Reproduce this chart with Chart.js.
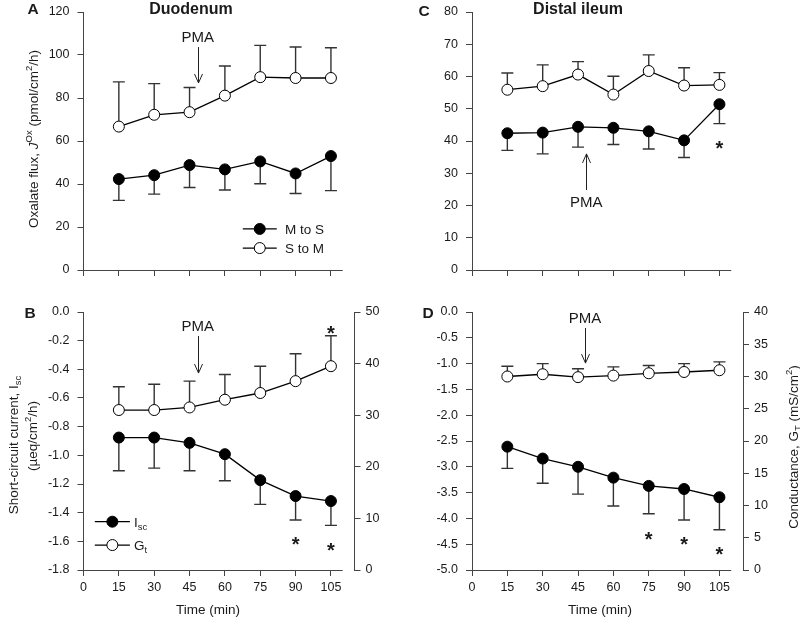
<!DOCTYPE html>
<html>
<head>
<meta charset="utf-8">
<script src="https://cdn.jsdelivr.net/npm/chart.js@4"></script>
<style>
  body { margin: 0; background: #fff; }
  #wrap { position: relative; width: 800px; height: 618px; background: #fff; }
  canvas { position: absolute; }
</style>
</head>
<body>
<div id="wrap">
  <canvas id="chartA" width="400" height="300" style="left:0;top:0"></canvas>
  <canvas id="chartC" width="400" height="300" style="left:400px;top:0"></canvas>
  <canvas id="chartB" width="400" height="318" style="left:0;top:300px"></canvas>
  <canvas id="chartD" width="400" height="318" style="left:400px;top:300px"></canvas>
</div>
<script>
// time points (min)
const times = [15, 30, 45, 60, 75, 90, 105];
const timeTicks = [0, 15, 30, 45, 60, 75, 90, 105];

// A - duodenum oxalate flux
const duoMtoS = [42.3, 44.1, 48.8, 46.8, 50.5, 44.9, 53.0];
const duoMtoSErr = [9.9, 8.8, 10.4, 9.6, 10.4, 9.3, 16.1];
const duoStoM = [66.7, 72.2, 73.4, 81.1, 89.7, 89.3, 89.3];
const duoStoMErr = [20.8, 14.5, 11.5, 13.8, 14.8, 14.4, 14.1];

// C - distal ileum oxalate flux
const ileMtoS = [42.4, 42.6, 44.4, 44.1, 43.0, 40.2, 51.4];
const ileMtoSErr = [5.3, 6.6, 6.3, 5.2, 5.5, 5.3, 6.0];
const ileStoM = [55.9, 57.0, 60.6, 54.4, 61.7, 57.2, 57.4];
const ileStoMErr = [5.2, 6.6, 4.0, 5.7, 5.0, 5.5, 3.8];

// B - duodenum Isc / Gt
const duoIsc = [-0.876, -0.876, -0.913, -0.992, -1.173, -1.284, -1.319];
const duoIscErr = [0.232, 0.213, 0.195, 0.185, 0.169, 0.167, 0.17];
const duoGt = [31.0, 31.0, 31.5, 33.0, 34.3, 36.6, 39.5];
const duoGtErr = [4.5, 5.0, 5.1, 4.9, 5.2, 5.3, 5.9];

// D - distal ileum Isc / Gt
const ileIsc = [-2.61, -2.84, -3.0, -3.21, -3.37, -3.43, -3.59];
const ileIscErr = [0.42, 0.48, 0.53, 0.55, 0.54, 0.60, 0.63];
const ileGt = [30.0, 30.35, 29.9, 30.14, 30.5, 30.7, 30.97];
const ileGtErr = [1.6, 1.65, 1.3, 1.36, 1.2, 1.3, 1.29];

// tick labels
const fluxDuoTicks = [0, 20, 40, 60, 80, 100, 120];
const fluxIleTicks = [0, 10, 20, 30, 40, 50, 60, 70, 80];
const iscDuoTicks = [0, -0.2, -0.4, -0.6, -0.8, -1.0, -1.2, -1.4, -1.6, -1.8];
const gtDuoTicks = [0, 10, 20, 30, 40, 50];
const iscIleTicks = [0, -0.5, -1.0, -1.5, -2.0, -2.5, -3.0, -3.5, -4.0, -4.5, -5.0];
const gtIleTicks = [0, 5, 10, 15, 20, 25, 30, 35, 40];

const FONT = "'Liberation Sans', Arial, sans-serif";
const AXIS = '#444';
const TEXT = '#1a1a1a';
Chart.defaults.font.family = FONT;
Chart.defaults.color = TEXT;

function series(values, filled, err, dir, axis) {
  return {
    data: times.map((t, i) => ({ x: t, y: values[i] })),
    err: err,
    dir: dir,
    yAxisID: axis,
    borderColor: '#000',
    borderWidth: 1.3,
    pointRadius: 5.5,
    pointBorderWidth: 1,
    pointBorderColor: '#000',
    pointBackgroundColor: filled ? '#000' : '#fff',
    tension: 0,
    clip: false
  };
}

function xScale(h, showLabels) {
  return {
    type: 'linear', min: 0, max: 115,
    border: { display: false },
    grid: { drawOnChartArea: false, tickLength: 6, color: AXIS },
    ticks: { display: showLabels, padding: 4, font: { size: 12.5 }, color: TEXT },
    afterBuildTicks: s => { s.ticks = timeTicks.map(v => ({ value: v })); },
    afterFit: s => { s.height = h - 270; s.paddingLeft = 0; s.paddingRight = 0; }
  };
}

function yScale(pos, tickVals, width, fmt) {
  return {
    type: 'linear', position: pos,
    min: Math.min(...tickVals), max: Math.max(...tickVals),
    border: { display: true, color: AXIS, width: 1 },
    grid: { drawOnChartArea: false, tickLength: 6, color: AXIS },
    ticks: { padding: pos === 'left' ? 8 : 5, font: { size: 12.5 }, color: TEXT, callback: fmt },
    afterBuildTicks: s => { s.ticks = tickVals.map(v => ({ value: v })); },
    afterFit: s => { s.width = width; s.paddingTop = 0; s.paddingBottom = 0; }
  };
}

const plain = v => String(v);
const oneDec = v => v.toFixed(1);

// one-sided error bars, drawn under the markers
const errorBars = {
  id: 'errorBars',
  beforeDatasetsDraw(chart) {
    const ctx = chart.ctx;
    ctx.save();
    ctx.strokeStyle = '#333';
    ctx.lineWidth = 1.4;
    chart.data.datasets.forEach((ds, i) => {
      const meta = chart.getDatasetMeta(i);
      const ys = chart.scales[ds.yAxisID];
      ds.data.forEach((p, j) => {
        const x = meta.data[j].x;
        const y0 = ys.getPixelForValue(p.y);
        const y1 = ys.getPixelForValue(p.y + ds.dir * ds.err[j]);
        ctx.beginPath();
        ctx.moveTo(x, y0);
        ctx.lineTo(x, y1);
        ctx.moveTo(x - 6, y1);
        ctx.lineTo(x + 6, y1);
        ctx.stroke();
      });
    });
    ctx.restore();
  }
};

function segFont(kind, size, weight) {
  const small = kind === 'sup' || kind === 'sub';
  return (kind === 'i' ? 'italic ' : '') + (weight || '') + ' ' + (small ? size * 0.7 : size) + 'px ' + FONT;
}

// text with sub/superscripts; y is the visual middle of the capitals
function drawRich(ctx, segs, size, x, y, opt) {
  opt = opt || {};
  ctx.save();
  ctx.translate(x, y);
  if (opt.rot) ctx.rotate(opt.rot);
  let w = 0;
  segs.forEach(([t, k]) => { ctx.font = segFont(k, size, opt.weight); w += ctx.measureText(t).width; });
  let cx = opt.align === 'left' ? 0 : -w / 2;
  ctx.textAlign = 'left';
  ctx.textBaseline = 'alphabetic';
  ctx.fillStyle = TEXT;
  const base = size * 0.36;
  segs.forEach(([t, k]) => {
    ctx.font = segFont(k, size, opt.weight);
    const dy = k === 'sup' ? -size * 0.4 : k === 'sub' ? size * 0.25 : 0;
    ctx.fillText(t, cx, base + dy);
    cx += ctx.measureText(t).width;
  });
  ctx.restore();
}

const decoById = {
  chartA: {
    letter: ['A', 33, 8], title: ['Duodenum', 191, 8],
    texts: [{ segs: [['Oxalate flux, '], ['J', 'i'], ['Ox', 'sup'], [' (pmol/cm'], ['2', 'sup'], ['/h)']], x: 33, y: 139, rot: -Math.PI / 2 }],
    pma: { axis: 'y', x: 48.5, text: 108.4, from: 103.7, to: 87 },
    stars: [],
    legend: { axis: 'y', x1: 67.6, x2: 82, tx: 85.5, items: [
      { y: 19.1, fill: true, segs: [['M to S']] },
      { y: 10.2, fill: false, segs: [['S to M']] }
    ] }
  },
  chartC: {
    letter: ['C', 24, 10], title: ['Distal ileum', 178, 8],
    texts: [],
    pma: { axis: 'y', x: 48.5, text: 21.1, from: 24.8, to: 36.0 },
    stars: [{ axis: 'y', x: 105, y: 39.3 }]
  },
  chartB: {
    letter: ['B', 30, 12],
    texts: [
      { segs: [['Short-circuit current, I'], ['sc', 'sub']], x: 13, y: 145, rot: -Math.PI / 2 },
      { segs: [['(\u00b5eq/cm'], ['2', 'sup'], ['/h)']], x: 32, y: 136, rot: -Math.PI / 2 },
      { segs: [['Time (min)']], x: 208, y: 309 }
    ],
    pma: { axis: 'y', x: 48.5, text: -0.098, from: -0.167, to: -0.426 },
    stars: [{ axis: 'y', x: 105, y: -0.116 }, { axis: 'y', x: 90, y: -1.59 }, { axis: 'y', x: 105, y: -1.626 }],
    legend: { axis: 'y', x1: 4.8, x2: 19.7, tx: 21.4, items: [
      { y: -1.463, fill: true, segs: [['I'], ['sc', 'sub']] },
      { y: -1.626, fill: false, segs: [['G'], ['t', 'sub']] }
    ] }
  },
  chartD: {
    letter: ['D', 28, 12],
    texts: [
      { segs: [['Conductance, G'], ['T', 'sub'], [' (mS/cm'], ['2', 'sup'], [')']], x: 393, y: 147, rot: -Math.PI / 2 },
      { segs: [['Time (min)']], x: 200, y: 309 }
    ],
    pma: { axis: 'y', x: 48, text: -0.1, from: -0.31, to: -0.99 },
    stars: [{ axis: 'y', x: 75, y: -4.32 }, { axis: 'y', x: 90, y: -4.40 }, { axis: 'y', x: 105, y: -4.61 }]
  }
};

const deco = {
  id: 'deco',
  afterDatasetsDraw(chart) {
    const d = decoById[chart.canvas.id];
    const ctx = chart.ctx;
    const xs = chart.scales.x;
    const area = chart.chartArea;
    ctx.save();

    // x axis line stops at 110 min
    const yb = Math.round(area.bottom - 0.5) + 0.5;
    ctx.strokeStyle = AXIS;
    ctx.lineWidth = 1;
    ctx.beginPath();
    ctx.moveTo(area.left, yb);
    ctx.lineTo(xs.getPixelForValue(110), yb);
    ctx.stroke();

    drawRich(ctx, [[d.letter[0]]], 15.5, d.letter[1], d.letter[2], { weight: 'bold' });
    if (d.title) drawRich(ctx, [[d.title[0]]], 16, d.title[1], d.title[2], { weight: 'bold' });
    d.texts.forEach(t => drawRich(ctx, t.segs, 13.5, t.x, t.y, { rot: t.rot }));

    // PMA arrow
    const p = d.pma, ys = chart.scales[p.axis];
    const px = Math.round(xs.getPixelForValue(p.x)) + 0.5;
    const y1 = ys.getPixelForValue(p.from), y2 = ys.getPixelForValue(p.to);
    const dir = Math.sign(y2 - y1);
    ctx.strokeStyle = '#222';
    ctx.lineWidth = 1;
    ctx.beginPath();
    ctx.moveTo(px, y1);
    ctx.lineTo(px, y2);
    ctx.moveTo(px - 4, y2 - dir * 9);
    ctx.lineTo(px, y2);
    ctx.lineTo(px + 4, y2 - dir * 9);
    ctx.stroke();
    drawRich(ctx, [['PMA']], 15, xs.getPixelForValue(p.x), ys.getPixelForValue(p.text));

    // significance stars
    ctx.fillStyle = TEXT;
    ctx.font = 'bold 20px ' + FONT;
    ctx.textAlign = 'center';
    ctx.textBaseline = 'alphabetic';
    d.stars.forEach(s => {
      ctx.fillText('*', xs.getPixelForValue(s.x), chart.scales[s.axis].getPixelForValue(s.y) + 11.5);
    });

    // legend
    if (d.legend) {
      const L = d.legend, ly = chart.scales[L.axis];
      const x1 = xs.getPixelForValue(L.x1), x2 = xs.getPixelForValue(L.x2);
      L.items.forEach(it => {
        const y = ly.getPixelForValue(it.y);
        ctx.strokeStyle = '#000';
        ctx.lineWidth = 1.3;
        ctx.beginPath();
        ctx.moveTo(x1, y);
        ctx.lineTo(x2, y);
        ctx.stroke();
        ctx.beginPath();
        ctx.arc((x1 + x2) / 2, y, 5.5, 0, Math.PI * 2);
        ctx.fillStyle = it.fill ? '#000' : '#fff';
        ctx.fill();
        ctx.lineWidth = 1;
        ctx.stroke();
        drawRich(ctx, it.segs, 13.5, xs.getPixelForValue(L.tx), y, { align: 'left' });
      });
    }
    ctx.restore();
  }
};

function makeChart(id, datasets, scales, padRight) {
  new Chart(document.getElementById(id), {
    type: 'line',
    data: { datasets: datasets },
    options: {
      responsive: false,
      animation: false,
      layout: { padding: { top: 12, right: padRight, bottom: 0, left: 0 } },
      scales: scales,
      plugins: { legend: { display: false }, tooltip: { enabled: false } }
    },
    plugins: [errorBars, deco]
  });
}

makeChart('chartA', [
  series(duoMtoS, true, duoMtoSErr, -1, 'y'),
  series(duoStoM, false, duoStoMErr, 1, 'y')
], { x: xScale(300, false), y: yScale('left', fluxDuoTicks, 83.5, plain) }, 45.5);

makeChart('chartC', [
  series(ileMtoS, true, ileMtoSErr, -1, 'y'),
  series(ileStoM, false, ileStoMErr, 1, 'y')
], { x: xScale(300, false), y: yScale('left', fluxIleTicks, 72, plain) }, 57);

makeChart('chartB', [
  series(duoIsc, true, duoIscErr, -1, 'y'),
  series(duoGt, false, duoGtErr, 1, 'y2')
], { x: xScale(318, true), y: yScale('left', iscDuoTicks, 83.5, oneDec), y2: yScale('right', gtDuoTicks, 45.5, plain) }, 0);

makeChart('chartD', [
  series(ileIsc, true, ileIscErr, -1, 'y'),
  series(ileGt, false, ileGtErr, 1, 'y2')
], { x: xScale(318, true), y: yScale('left', iscIleTicks, 72, oneDec), y2: yScale('right', gtIleTicks, 57, plain) }, 0);
</script>
</body>
</html>
